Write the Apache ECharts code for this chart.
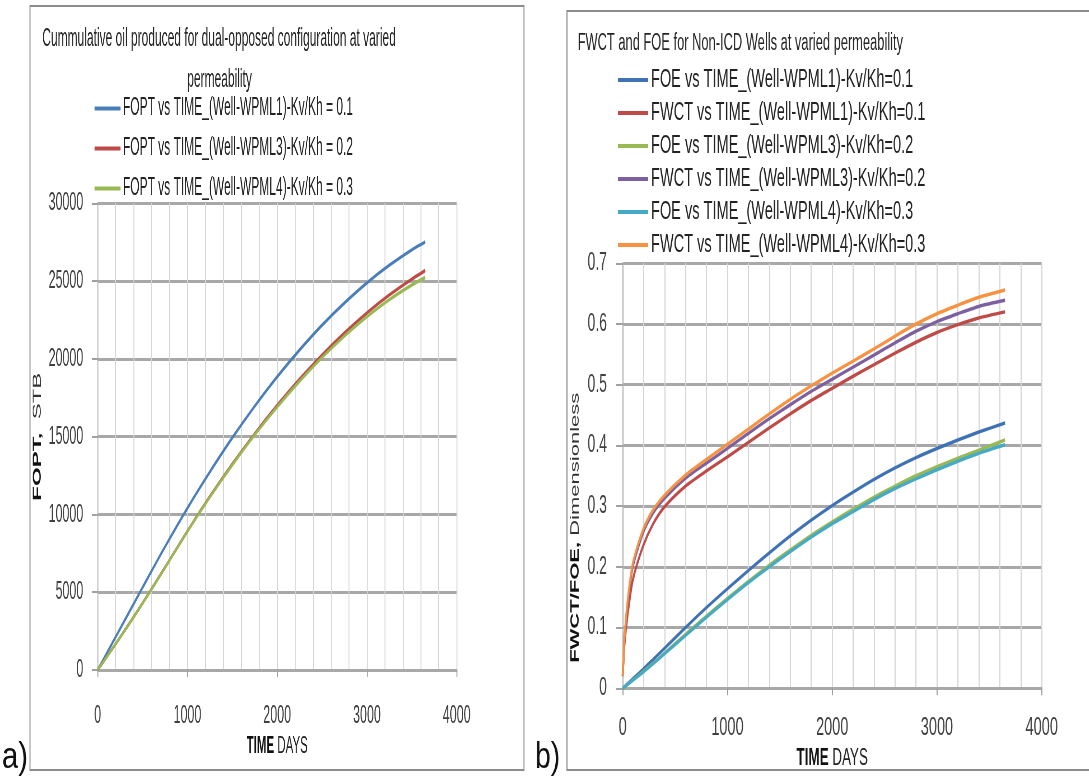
<!DOCTYPE html>
<html>
<head>
<meta charset="utf-8">
<script src="https://cdn.jsdelivr.net/npm/echarts/dist/echarts.min.js"></script>
<style>
    html, body {margin: 0; padding: 0; background: #fff; width: 1089px; height: 778px; overflow: hidden;}
    .panel {position: absolute; top: 0; height: 778px; transform-origin: 0 0;}
    /* the source picture is squeezed sideways, so each chart is drawn wide and scaled down in x */
    #chartA {left: 0; width: 1136px; transform: scaleX(0.48);}
    #chartB {left: 530px; width: 998px; transform: scaleX(0.56);}
</style>
</head>
<body>
<div id="chartA" class="panel"></div>
<div id="chartB" class="panel"></div>
<script>
    // ---- a) cumulative oil (FOPT, STB) ----
    const daysA = [0, 250, 500, 750, 1000, 1250, 1500, 1750, 2000, 2250, 2500, 2750, 3000, 3250, 3500, 3650];
    const foptL1 = [0, 2650, 5300, 7920, 10410, 12740, 14930, 16960, 18850, 20580, 22170, 23600, 24890, 26020, 27010, 27520];
    const foptL3 = [0, 2100, 4290, 6590, 8930, 11150, 13240, 15190, 17010, 18700, 20250, 21670, 22960, 24110, 25130, 25680];
    const foptL4 = [0, 2095, 4285, 6570, 8900, 11110, 13180, 15120, 16910, 18570, 20090, 21470, 22710, 23810, 24750, 25230];
    const namesA = [
        'FOPT vs TIME_(Well-WPML1)-Kv/Kh = 0.1',
        'FOPT vs TIME_(Well-WPML3)-Kv/Kh = 0.2',
        'FOPT vs TIME_(Well-WPML4)-Kv/Kh = 0.3'
    ];

    // ---- b) water cut and recovery (FWCT / FOE) ----
    const daysB = [0, 16, 48, 96, 192, 288, 400, 600, 800, 1000, 1200, 1400, 1600, 1800, 2000, 2200, 2400, 2600, 2800, 3000, 3200, 3400, 3650];
    const foeL1 = [0, 0.0026, 0.0078, 0.0155, 0.031, 0.047, 0.066, 0.1, 0.133, 0.164, 0.194, 0.223, 0.251, 0.277, 0.301, 0.323, 0.344, 0.363, 0.38, 0.395, 0.409, 0.422, 0.437];
    const fwctL1 = [0.02, 0.07, 0.123, 0.178, 0.233, 0.27, 0.299, 0.333, 0.358, 0.381, 0.405, 0.429, 0.452, 0.474, 0.494, 0.514, 0.533, 0.552, 0.57, 0.586, 0.599, 0.61, 0.62];
    const foeL3 = [0, 0.0022, 0.0067, 0.0135, 0.027, 0.041, 0.058, 0.089, 0.119, 0.148, 0.176, 0.203, 0.228, 0.252, 0.274, 0.295, 0.315, 0.333, 0.35, 0.365, 0.379, 0.392, 0.409];
    const fwctL3 = [0.02, 0.078, 0.14, 0.2, 0.255, 0.288, 0.313, 0.346, 0.371, 0.395, 0.42, 0.444, 0.467, 0.489, 0.509, 0.529, 0.549, 0.569, 0.588, 0.604, 0.617, 0.629, 0.639];
    const foeL4 = [0, 0.002, 0.0065, 0.013, 0.026, 0.04, 0.057, 0.087, 0.117, 0.146, 0.174, 0.2, 0.225, 0.249, 0.271, 0.291, 0.311, 0.329, 0.345, 0.36, 0.374, 0.387, 0.401];
    const fwctL4 = [0.02, 0.08, 0.145, 0.205, 0.26, 0.293, 0.318, 0.351, 0.377, 0.402, 0.427, 0.452, 0.476, 0.498, 0.519, 0.539, 0.559, 0.58, 0.6, 0.617, 0.631, 0.644, 0.656];
    const namesB = [
        'FOE vs TIME_(Well-WPML1)-Kv/Kh=0.1',
        'FWCT vs TIME_(Well-WPML1)-Kv/Kh=0.1',
        'FOE vs TIME_(Well-WPML3)-Kv/Kh=0.2',
        'FWCT vs TIME_(Well-WPML3)-Kv/Kh=0.2',
        'FOE vs TIME_(Well-WPML4)-Kv/Kh=0.3',
        'FWCT vs TIME_(Well-WPML4)-Kv/Kh=0.3'
    ];

    const FONT = "'Liberation Sans', Arial, sans-serif";
    const zip = (xs, ys) => xs.map((x, i) => [x, ys[i]]);
    const plain = v => String(v);

    function lineSeries(name, days, vals, color) {
        return {
            type: 'line', name: name, data: zip(days, vals),
            showSymbol: false, smooth: 0.25,
            lineStyle: {width: 3.5, color: color}, itemStyle: {color: color}
        };
    }

    function xAxisOf(labelMargin, nameGap) {
        return {
            type: 'value', min: 0, max: 4000, interval: 1000,
            name: '{b|TIME} DAYS', nameLocation: 'middle', nameGap: nameGap,
            nameTextStyle: {fontSize: 24, color: '#222', rich: {b: {fontSize: 24, fontWeight: 'bold', color: '#111'}}},
            axisLine: {show: true, lineStyle: {color: '#a8a8a8', width: 3}},
            axisTick: {show: true, length: 7, lineStyle: {color: '#a0a0a0', width: 2}},
            axisLabel: {fontSize: 26, color: '#404040', margin: labelMargin, formatter: plain},
            splitLine: {show: true, lineStyle: {color: '#d6d6d6', width: 2}},
            minorTick: {show: false, splitNumber: 5},
            minorSplitLine: {show: true, lineStyle: {color: '#d6d6d6', width: 2}}
        };
    }

    // chart a
    const chartA = echarts.init(document.getElementById('chartA'));
    chartA.setOption({
        animation: false,
        textStyle: {fontFamily: FONT},
        title: [
            {text: 'Cummulative oil produced for dual-opposed configuration at varied', left: 83, top: 22,
                textStyle: {fontSize: 25, fontWeight: 'normal', color: '#262626'}},
            {text: 'permeability', left: 385, top: 63,
                textStyle: {fontSize: 25, fontWeight: 'normal', color: '#262626'}}
        ],
        legend: {
            orient: 'vertical', left: 192, top: 91, itemGap: 15,
            itemWidth: 54, itemHeight: 4, icon: 'rect', selectedMode: false,
            textStyle: {fontSize: 25, color: '#222'},
            data: namesA
        },
        grid: {left: 203.5, right: 184.5, top: 203.3, bottom: 108, outerBoundsMode: 'none'},
        xAxis: xAxisOf(33, 61),
        yAxis: {
            type: 'value', min: 0, max: 30000, interval: 5000,
            name: '{b|FOPT,}  STB', nameLocation: 'middle', nameGap: 100, nameRotate: 90,
            nameTextStyle: {fontSize: 24, color: '#333', rich: {b: {fontSize: 24, fontWeight: 'bold', color: '#111'}}},
            axisLine: {show: true, lineStyle: {color: '#b0b0b0', width: 2}},
            axisTick: {show: true, length: 12, lineStyle: {color: '#a0a0a0', width: 2}},
            axisLabel: {fontSize: 26, color: '#404040', margin: 30, formatter: plain},
            splitLine: {show: true, lineStyle: {color: '#a8a8a8', width: 3}}
        },
        graphic: [
            {type: 'rect', silent: true, z: -10, shape: {x: 62.5, y: 6, width: 1029, height: 764},
                style: {fill: 'none', stroke: '#8c8c8c', lineWidth: 2}},
            {type: 'text', left: 4, top: 740, scaleX: 1.7,
                style: {text: 'a)', fontSize: 36, fontFamily: FONT, fill: '#111'}}
        ],
        series: [
            lineSeries(namesA[0], daysA, foptL1, '#4a7ebb'),
            lineSeries(namesA[1], daysA, foptL3, '#be4b48'),
            lineSeries(namesA[2], daysA, foptL4, '#98b954')
        ]
    });

    // chart b
    const chartB = echarts.init(document.getElementById('chartB'));
    chartB.setOption({
        animation: false,
        textStyle: {fontFamily: FONT},
        title: {text: 'FWCT and FOE for Non-ICD Wells at varied permeability', left: 80, top: 27,
            textStyle: {fontSize: 23, fontWeight: 'normal', color: '#262626'}},
        legend: {
            orient: 'vertical', left: 152, top: 62, itemGap: 7,
            itemWidth: 54, itemHeight: 4, icon: 'rect', selectedMode: false,
            textStyle: {fontSize: 26, color: '#222'},
            data: namesB
        },
        grid: {left: 165.5, right: 84.3, top: 263.3, bottom: 89.7, outerBoundsMode: 'none'},
        xAxis: xAxisOf(27, 52),
        yAxis: {
            type: 'value', min: 0, max: 0.7, interval: 0.1,
            name: '{b|FWCT/FOE,} Dimensionless', nameLocation: 'middle', nameGap: 65, nameRotate: 90,
            nameTextStyle: {fontSize: 22, color: '#333', padding: [0, 104, 0, 0],
                rich: {b: {fontSize: 22, fontWeight: 'bold', color: '#111'}}},
            axisLine: {show: true, lineStyle: {color: '#b0b0b0', width: 2}},
            axisTick: {show: true, length: 12, lineStyle: {color: '#a0a0a0', width: 2}},
            axisLabel: {fontSize: 25, color: '#404040', margin: 28, formatter: plain},
            splitLine: {show: true, lineStyle: {color: '#a8a8a8', width: 3}}
        },
        graphic: [
            {type: 'rect', silent: true, z: -10, shape: {x: 66, y: 11, width: 1000, height: 759},
                style: {fill: 'none', stroke: '#8c8c8c', lineWidth: 2}},
            {type: 'text', left: 9, top: 740, scaleX: 1.4,
                style: {text: 'b)', fontSize: 36, fontFamily: FONT, fill: '#111'}}
        ],
        series: [
            lineSeries(namesB[0], daysB, foeL1, '#3f72b5'),
            lineSeries(namesB[1], daysB, fwctL1, '#be4b48'),
            lineSeries(namesB[2], daysB, foeL3, '#98b954'),
            lineSeries(namesB[3], daysB, fwctL3, '#7d60a0'),
            lineSeries(namesB[4], daysB, foeL4, '#46aac5'),
            lineSeries(namesB[5], daysB, fwctL4, '#f69240')
        ]
    });
</script>
</body>
</html>
